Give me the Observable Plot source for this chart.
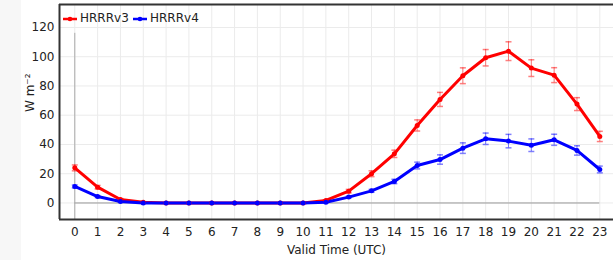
<!DOCTYPE html>
<html><head><meta charset="utf-8">
<script src="https://cdn.jsdelivr.net/npm/d3@7"></script>
<script src="https://cdn.jsdelivr.net/npm/@observablehq/plot@0.6"></script>
<style>
html,body{margin:0;padding:0;overflow:hidden;background:#fff;}
#wrap{position:absolute;left:0;top:0;width:613px;height:260px;overflow:hidden;font-family:"DejaVu Sans";background:#fff;}
#strip{position:absolute;left:0;top:0;width:21px;height:260px;background:#f7f7f7;}
#wrap svg.plot{position:absolute;left:0;top:0;display:block;}
.sw{position:absolute;top:15px;}
.lt{position:absolute;top:11px;font-size:12px;color:#222;line-height:14px;}
</style>
</head><body>
<div id="wrap"><div id="strip"></div></div>
<script>
const hours = [0,1,2,3,4,5,6,7,8,9,10,11,12,13,14,15,16,17,18,19,20,21,22,23];
const seriesNames = ["HRRRv3","HRRRv4"];
const seriesColors = ["#ff0000","#0000ff"];
const v3    = [24, 10.8, 2.4, 0.5, 0, 0, 0, 0, 0, 0, 0, 1.7, 8.1, 20, 33.6, 53, 70.8, 87, 99.3, 103.8, 92.2, 87.4, 67.6, 45.5];
const v3err = [2, 1.2, 0.6, 0.2, 0, 0, 0, 0, 0, 0, 0, 0.5, 1.2, 2, 2.5, 3.8, 4.8, 5.4, 5.6, 6.4, 5.7, 5.1, 4.4, 3.5];
const v4    = [11.3, 4.4, 1, 0, 0, 0, 0, 0, 0, 0, 0, 0.5, 4, 8.3, 14.7, 25.6, 29.7, 37.5, 43.9, 42.3, 39.5, 43.2, 35.9, 22.9];
const v4err = [1, 0.6, 0.3, 0, 0, 0, 0, 0, 0, 0, 0, 0.2, 0.6, 1, 1.5, 2.3, 3.2, 3.6, 3.9, 4.6, 4.3, 3.8, 3.2, 2.3];
const yTicks = [0,20,40,60,80,100,120];
const xLabel = "Valid Time (UTC)";
const yLabel = "W m\u207B\u00B2";

const data = hours.flatMap((h,i)=>[
  {h, v:v3[i], e:v3err[i], s:seriesNames[0]},
  {h, v:v4[i], e:v4err[i], s:seriesNames[1]}
]);
const xDom = [-0.67, 23.6];
const yDom = [-11.3, 135.7];
const capSym = {draw(ctx, size){ const r = Math.sqrt(size/Math.PI); ctx.moveTo(-r,0); ctx.lineTo(r,0); }};

const chart = Plot.plot({
  width:613, height:260, marginLeft:59, marginRight:0, marginTop:4, marginBottom:41,
  x:{domain:xDom}, y:{domain:yDom},
  color:{domain:seriesNames, range:seriesColors},
  style:{background:"transparent", fontFamily:"DejaVu Sans", fontSize:"12px", color:"#222", overflow:"hidden"},
  marks:[
    Plot.gridX(hours, {stroke:"#ebebeb", strokeOpacity:1}),
    Plot.gridY(yTicks, {stroke:"#ebebeb", strokeOpacity:1}),
    Plot.ruleY([0], {x1:0, x2:23, stroke:"#999"}),
    Plot.ruleX([0], {y1:116, y2:yDom[0], stroke:"#aaa"}),
    Plot.ruleX(data, {x:"h", y1:d=>d.v-d.e, y2:d=>d.v+d.e, stroke:"s", strokeOpacity:0.5}),
    Plot.dot(data, {x:"h", y:d=>d.v+d.e, symbol:capSym, r:3, stroke:"s", strokeOpacity:0.5, fill:"none"}),
    Plot.dot(data, {x:"h", y:d=>d.v-d.e, symbol:capSym, r:3, stroke:"s", strokeOpacity:0.5, fill:"none"}),
    Plot.line(data, {x:"h", y:"v", z:"s", stroke:"s", strokeWidth:3}),
    Plot.dot(data, {x:"h", y:"v", fill:"s", r:2.5}),
    Plot.axisX(hours, {tickSize:0, tickPadding:8, label:null}),
    Plot.axisY(yTicks, {tickSize:0, tickPadding:5, label:null}),
    Plot.text([xLabel], {frameAnchor:"bottom", dy:34, fill:"#222", fontSize:12}),
    Plot.text([yLabel], {frameAnchor:"left", dx:-29, rotate:-90, fill:"#222", fontSize:12}),
    Plot.ruleX([xDom[0]], {stroke:"#333", strokeWidth:2}),
    Plot.ruleY(yDom, {stroke:"#333", strokeWidth:2})
  ]
});
const wrap = document.getElementById("wrap");
wrap.appendChild(chart);

const lx = [[63,80],[133,150]];
seriesNames.forEach((n,i)=>{
  const sw = document.createElementNS("http://www.w3.org/2000/svg","svg");
  sw.setAttribute("width",15); sw.setAttribute("height",8);
  sw.setAttribute("class","sw"); sw.style.left = lx[i][0]+"px";
  sw.innerHTML = `<line x1="0" y1="4" x2="14" y2="4" stroke="${seriesColors[i]}" stroke-width="2.5"/><circle cx="7" cy="4" r="2.3" fill="${seriesColors[i]}"/>`;
  wrap.appendChild(sw);
  const t = document.createElement("div");
  t.className = "lt"; t.style.left = lx[i][1]+"px"; t.textContent = n;
  wrap.appendChild(t);
});
</script>
</body></html>
